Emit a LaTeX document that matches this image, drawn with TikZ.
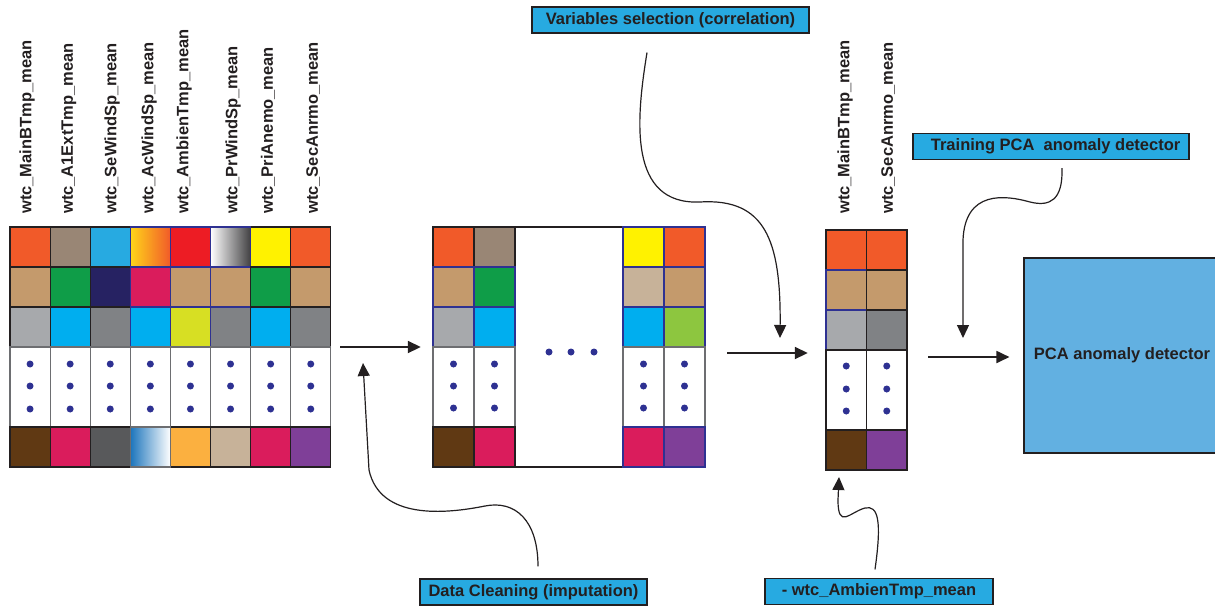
\documentclass[tikz,border=0pt]{standalone}
\usepackage{fontspec}
\setmainfont{Liberation Sans}
\usepackage{xcolor}
\usetikzlibrary{positioning,arrows.meta}
\definecolor{ink}{HTML}{231F20}
\definecolor{navy}{HTML}{2E3192}
\definecolor{navyc}{HTML}{262262}
\definecolor{orng}{HTML}{F15A29}
\definecolor{taupe}{HTML}{998675}
\definecolor{skyc}{HTML}{27AAE1}
\definecolor{yel}{HTML}{FFF200}
\definecolor{yelg}{HTML}{FFD51A}
\definecolor{redc}{HTML}{ED1C24}
\definecolor{tan}{HTML}{C49A6C}
\definecolor{greenc}{HTML}{0F9D48}
\definecolor{crim}{HTML}{DA1C5C}
\definecolor{lgray}{HTML}{A7A9AC}
\definecolor{cyanc}{HTML}{00AEEF}
\definecolor{mgray}{HTML}{808285}
\definecolor{limec}{HTML}{D7DF23}
\definecolor{brown}{HTML}{603913}
\definecolor{dgray}{HTML}{58595B}
\definecolor{sgray}{HTML}{414042}
\definecolor{bluec}{HTML}{1C75BC}
\definecolor{lorng}{HTML}{FBB040}
\definecolor{beige}{HTML}{C7B299}
\definecolor{purp}{HTML}{7F3F98}
\definecolor{limeg}{HTML}{8DC63F}
\definecolor{pcab}{HTML}{62B0E1}
\definecolor{wgray}{HTML}{6D6E71}

\begin{document}
\begin{tikzpicture}[
  x=1pt, y=-1pt,
  font=\bfseries\fontsize{16.5}{19}\selectfont,
  >={Triangle[length=13pt, width=12pt]},
  cell/.style={draw=ink, line width=1.1pt, inner sep=0pt, outer sep=0pt, minimum width=40.1pt, minimum height=40pt},
  dotcell/.style={cell, draw=wgray, fill=white, minimum height=80pt},
  frame/.style={inner sep=0pt, minimum height=240pt},
  dotc/.style={fill=navy},
  collbl/.style={rotate=90, anchor=west, inner sep=0pt, text=ink},
  lbl/.style={draw=ink, fill=skyc, text=ink, line width=1.1pt, inner sep=2pt, minimum height=26pt},
  ar/.style={->, line width=1.8pt, ink},
  cv/.style={->, line width=1.2pt, ink}
]
\useasboundingbox (0,0) rectangle (1215,606);
% frames
\node[frame, minimum width=321pt] (m1) at (170.5,347) {};
\node[frame, minimum width=272pt] (m2) at (569,347) {};
\node[frame, minimum width=81pt] (m3) at (866.5,350) {};
% matrix 1
\foreach \c/\b/\i in {orng/ink/0, taupe/ink/1, skyc/ink/2, redc/navy/4, yel/ink/6, orng/ink/7}
  \node[cell, fill=\c, draw=\b] (a1\i) at ({30.05+40.1*\i},247) {};
\node[cell, draw=navy, left color=yelg, right color=orng] (a13) at (150.35,247) {};
\node[cell, draw=navy, left color=white, right color=sgray] (a15) at (230.55,247) {};
\foreach \c/\b [count=\i from 0] in {tan/ink, greenc/ink, navyc/ink, crim/navy, tan/navy, tan/navy, greenc/ink, tan/ink}
  \node[cell, fill=\c, draw=\b] (a2\i) at ({30.05+40.1*\i},287) {};
\foreach \c/\b [count=\i from 0] in {lgray/ink, cyanc/ink, mgray/ink, cyanc/navy, limec/navy, mgray/navy, cyanc/ink, mgray/ink}
  \node[cell, fill=\c, draw=\b] (a3\i) at ({30.05+40.1*\i},327) {};
\foreach \i in {0,...,7} {
  \node[dotcell] (a4\i) at ({30.05+40.1*\i},387) {};
  \foreach \y in {364,386,409}
    \fill[dotc] ({30.05+40.1*\i},\y) circle (3.5pt);
}
\foreach \c/\i in {brown/0, crim/1, dgray/2, lorng/4, beige/5, crim/6, purp/7}
  \node[cell, fill=\c] (a5\i) at ({30.05+40.1*\i},447) {};
\node[cell, draw=wgray, left color=bluec, right color=white] (a53) at (150.35,447) {};
% column labels
\node[collbl] (l1) at (27,214) {wtc\_MainBTmp\_mean};
\node[collbl] (l2) at (69,214) {wtc\_A1ExtTmp\_mean};
\node[collbl] (l3) at (112,214) {wtc\_SeWindSp\_mean};
\node[collbl] (l4) at (149,214) {wtc\_AcWindSp\_mean};
\node[collbl] (l5) at (184,214) {wtc\_AmbienTmp\_mean};
\node[collbl] (l6) at (233,214) {wtc\_PrWindSp\_mean};
\node[collbl] (l7) at (268,214) {wtc\_PriAnemo\_mean};
\node[collbl] (l8) at (313,214) {wtc\_SecAnrmo\_mean};
% matrix 2
\node[cell, minimum width=108pt, minimum height=240pt, fill=white] (b0) at (569,347) {};
\foreach \c/\b/\x [count=\i] in {orng/ink/453.5, taupe/ink/494.5, yel/navy/643.5, orng/navy/684.5}
  \node[cell, minimum width=41pt, fill=\c, draw=\b] (b1\i) at (\x,247) {};
\foreach \c/\b/\x [count=\i] in {tan/navy/453.5, greenc/navy/494.5, beige/navy/643.5, tan/navy/684.5}
  \node[cell, minimum width=41pt, fill=\c, draw=\b] (b2\i) at (\x,287) {};
\foreach \c/\b/\x [count=\i] in {lgray/navy/453.5, cyanc/navy/494.5, cyanc/navy/643.5, limeg/navy/684.5}
  \node[cell, minimum width=41pt, fill=\c, draw=\b] (b3\i) at (\x,327) {};
\foreach \x [count=\i] in {453.5, 494.5, 643.5, 684.5} {
  \node[dotcell, minimum width=41pt] (b4\i) at (\x,387) {};
  \foreach \y in {364,386,408}
    \fill[dotc] (\x,\y) circle (3.5pt);
}
\foreach \c/\b/\x [count=\i] in {brown/ink/453.5, crim/ink/494.5, crim/navy/643.5, purp/navy/684.5}
  \node[cell, minimum width=41pt, fill=\c, draw=\b] (b5\i) at (\x,447) {};
\foreach \x in {549,571,594}
  \fill[dotc] (\x,352) circle (3.5pt);
% matrix 3
\foreach \c/\b/\x [count=\i] in {orng/ink/846.25, orng/ink/886.75}
  \node[cell, minimum width=40.5pt, fill=\c, draw=\b] (c1\i) at (\x,250) {};
\foreach \c/\b/\x [count=\i] in {tan/navy/846.25, tan/ink/886.75}
  \node[cell, minimum width=40.5pt, fill=\c, draw=\b] (c2\i) at (\x,290) {};
\foreach \c/\b/\x [count=\i] in {lgray/navy/846.25, mgray/ink/886.75}
  \node[cell, minimum width=40.5pt, fill=\c, draw=\b] (c3\i) at (\x,330) {};
\foreach \x [count=\i] in {846.25, 886.75} {
  \node[dotcell, minimum width=40.5pt, draw=ink] (c4\i) at (\x,390) {};
  \foreach \y in {366,389,411}
    \fill[dotc] (\x,\y) circle (3.5pt);
}
\foreach \c/\x [count=\i] in {brown/846.25, purp/886.75}
  \node[cell, minimum width=40.5pt, fill=\c] (c5\i) at (\x,450) {};
\node[collbl] (k1) at (845,214) {wtc\_MainBTmp\_mean};
\node[collbl] (k2) at (888,214) {wtc\_SecAnrmo\_mean};
% detector
\node[draw=ink, fill=pcab, text=ink, line width=1.1pt, minimum width=196pt, minimum height=195pt] (pca) at (1122,355.5) {PCA anomaly detector};
% labels
\node[lbl, minimum width=277pt] (vsel) at (670.5,20) {Variables selection (correlation)};
\node[lbl, minimum width=276pt] (train) at (1051,146.5) {\ \ Training PCA \ anomaly detector};
\node[lbl, minimum width=227pt] (clean) at (533.5,592) {Data Cleaning (imputation)};
\node[lbl, minimum width=228pt] (drop) at (879,591.5) {- wtc\_AmbienTmp\_mean};
\coordinate (vtip) at (780,338);
\coordinate (ttip) at (963,338);
\coordinate (ctip) at (363,363);
\coordinate (dtip) at (839,477);
% arrows
\draw[ar, shorten <=9pt, shorten >=12pt] (m1) -- (m2);
\draw[ar, shorten <=22pt, shorten >=18pt] ([yshift=-6pt]m2.east) -- ([yshift=-3pt]m3.west);
\draw[ar, shorten <=21pt, shorten >=14pt] ([yshift=-7pt]m3.east) -- ([yshift=-1.5pt]pca.west);
\draw[cv] ([xshift=-23.5pt, yshift=-19pt]vsel.south) .. controls (636,120) and (628,205) .. (700,202)
  .. controls (765,198) and (781,240) .. (vtip);
\draw[cv] ([xshift=11pt, yshift=-8pt]train.south) .. controls (1063,200) and (1050,207) .. (1030,202)
  .. controls (1005,195) and (965,190) .. (963,240) -- (ttip);
\draw[cv] ([xshift=4.5pt, yshift=12pt]clean.north) .. controls (538,520) and (515,500) .. (485,506)
  .. controls (445,514) and (380,520) .. (369,470) -- (ctip);
\draw[cv] ([xshift=-4pt, yshift=8.5pt]drop.north) .. controls (882,520) and (878,505) .. (865,508)
  .. controls (850,512) and (838,530) .. (838,500) -- (dtip);
\end{tikzpicture}
\end{document}
